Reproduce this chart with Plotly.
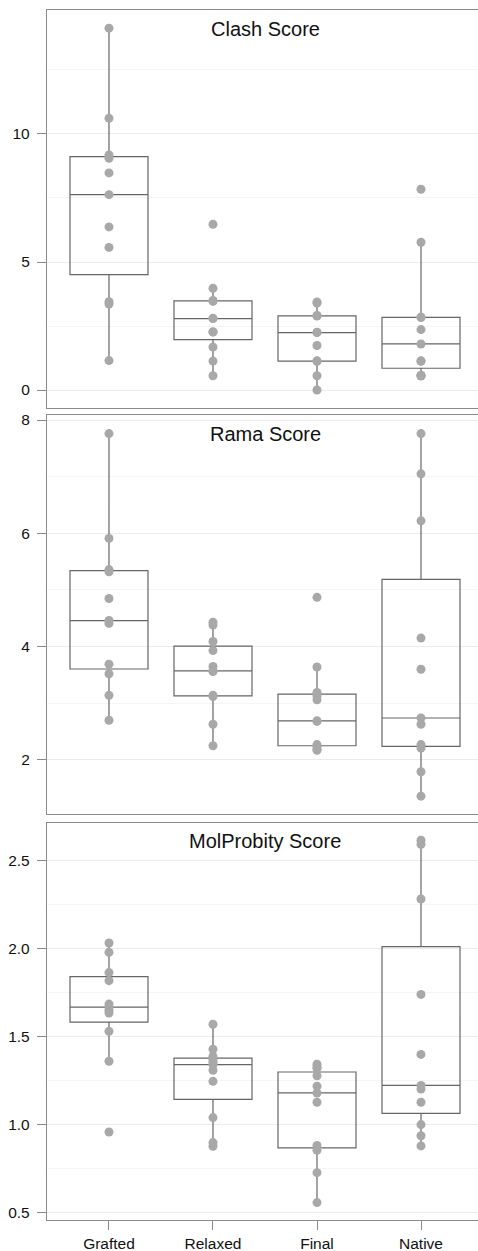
import numpy as np
import plotly.graph_objects as go

# Stages compared in every panel
categories = ["Grafted", "Relaxed", "Final", "Native"]

# Clash score per model, one list per stage
clash_grafted = [14.13, 10.61, 9.18, 9.05, 8.48, 7.63, 6.37, 5.57, 3.45, 3.36, 1.15]
clash_relaxed = [6.47, 3.97, 3.50, 3.46, 2.80, 2.79, 2.28, 2.26, 1.68, 1.13, 0.56]
clash_final = [3.44, 3.40, 2.91, 2.89, 2.26, 2.24, 1.74, 1.14, 1.12, 0.56, 0.0]
clash_native = [7.84, 5.77, 2.85, 2.83, 2.36, 1.80, 1.14, 1.12, 0.58, 0.57, 0.55]

# Rama score per model
rama_grafted = [7.76, 5.91, 5.36, 5.32, 4.85, 4.46, 4.41, 3.69, 3.52, 3.14, 2.70]
rama_relaxed = [4.43, 4.38, 4.09, 3.93, 3.65, 3.57, 3.56, 3.14, 3.12, 2.63, 2.25]
rama_final = [4.87, 3.64, 3.19, 3.13, 3.06, 2.69, 2.68, 2.27, 2.23, 2.19, 2.17]
rama_native = [7.76, 7.05, 6.22, 4.15, 3.60, 2.74, 2.63, 2.27, 2.21, 1.79, 1.36]

# MolProbity score per model
molp_grafted = [2.032, 1.979, 1.864, 1.818, 1.685, 1.668, 1.650, 1.634, 1.530, 1.360, 0.958]
molp_relaxed = [1.570, 1.428, 1.388, 1.368, 1.355, 1.341, 1.309, 1.246, 1.040, 0.898, 0.877]
molp_final = [1.343, 1.327, 1.320, 1.278, 1.218, 1.180, 1.127, 0.882, 0.854, 0.727, 0.557]
molp_native = [2.616, 2.593, 2.282, 1.740, 1.399, 1.223, 1.202, 1.127, 1.000, 0.937, 0.879]

panel_titles = ["Clash Score", "Rama Score", "MolProbity Score"]
panel_data = [
    [clash_grafted, clash_relaxed, clash_final, clash_native],
    [rama_grafted, rama_relaxed, rama_final, rama_native],
    [molp_grafted, molp_relaxed, molp_final, molp_native],
]

# Axis settings per panel: range, major tick step, minor tick step, tick format
y_ranges = [[-0.70, 14.84], [1.04, 8.08], [0.458, 2.716]]
y_dticks = [5, 2, 0.5]
y_minor = [2.5, 1, 0.25]
y_formats = ["d", "d", ".1f"]
y_domains = [[0.6711, 1.0], [0.3353, 0.6649], [0.0, 0.3284]]

FRAME = "#8a8a8a"
BOX_LINE = "#666666"
POINT = "#a8a8a8"
FONT = "Liberation Sans, Arial, Helvetica, sans-serif"


def tukey_stats(values):
    v = np.sort(np.asarray(values, dtype=float))
    q1, med, q3 = np.percentile(v, [25, 50, 75])
    iqr = q3 - q1
    lo = v[v >= q1 - 1.5 * iqr].min()
    hi = v[v <= q3 + 1.5 * iqr].max()
    return q1, med, q3, lo, hi


fig = go.Figure()

for i, groups in enumerate(panel_data):
    xa = "x" if i == 0 else f"x{i + 1}"
    ya = "y" if i == 0 else f"y{i + 1}"
    stats = [tukey_stats(g) for g in groups]
    fig.add_trace(go.Box(
        x=categories,
        q1=[s[0] for s in stats],
        median=[s[1] for s in stats],
        q3=[s[2] for s in stats],
        lowerfence=[s[3] for s in stats],
        upperfence=[s[4] for s in stats],
        boxpoints=False,
        width=0.75,
        whiskerwidth=0,
        fillcolor="rgba(255,255,255,0)",
        line=dict(color=BOX_LINE, width=1.2),
        xaxis=xa, yaxis=ya,
        showlegend=False, hoverinfo="skip",
    ))
    xs, ys = [], []
    for cat, g in zip(categories, groups):
        xs += [cat] * len(g)
        ys += list(g)
    fig.add_trace(go.Scatter(
        x=xs, y=ys, mode="markers",
        marker=dict(color=POINT, size=9, line=dict(width=0)),
        xaxis=xa, yaxis=ya, showlegend=False,
    ))

layout = dict(
    width=478, height=1251,
    margin=dict(l=47, r=0, t=10, b=31),
    paper_bgcolor="white", plot_bgcolor="white",
    font=dict(family=FONT, size=15.5, color="#111111"),
    showlegend=False,
)

for i in range(3):
    xkey = "xaxis" if i == 0 else f"xaxis{i + 1}"
    ykey = "yaxis" if i == 0 else f"yaxis{i + 1}"
    xa = "x" if i == 0 else f"x{i + 1}"
    ya = "y" if i == 0 else f"y{i + 1}"
    bottom = i == 2
    layout[xkey] = dict(
        type="category",
        categoryorder="array", categoryarray=categories,
        range=[-0.596, 3.548],
        anchor=ya, domain=[0, 1],
        showgrid=False, zeroline=False,
        showline=True, mirror=True, linecolor=FRAME, linewidth=1.3,
        ticks="outside" if bottom else "",
        ticklen=9, tickcolor=FRAME, tickwidth=1.2,
        showticklabels=bottom,
        tickfont=dict(size=15.5, color="#111111"),
    )
    layout[ykey] = dict(
        range=y_ranges[i], domain=y_domains[i], anchor=xa,
        dtick=y_dticks[i], tick0=0, tickformat=y_formats[i],
        showgrid=True, gridcolor="#ebebeb", gridwidth=1,
        zeroline=False,
        showline=True, linecolor=FRAME, linewidth=1.3,
        ticks="outside", ticklen=9, tickcolor=FRAME, tickwidth=1.2,
        tickfont=dict(size=15.5, color="#111111"),
        ticklabelstandoff=4,
        minor=dict(dtick=y_minor[i], tick0=0, showgrid=True,
                   gridcolor="#f5f5f5", gridwidth=1, ticks=""),
    )

fig.update_layout(**layout)

for i, title in enumerate(panel_titles):
    xa = "x" if i == 0 else f"x{i + 1}"
    ya = "y" if i == 0 else f"y{i + 1}"
    fig.add_annotation(
        text=title, x=1.5, xref=xa, y=1, yref=f"{ya} domain",
        yanchor="middle", yshift=-18.5, showarrow=False,
        font=dict(family=FONT, size=20, color="#111111"),
    )

fig.write_html("out.html")
